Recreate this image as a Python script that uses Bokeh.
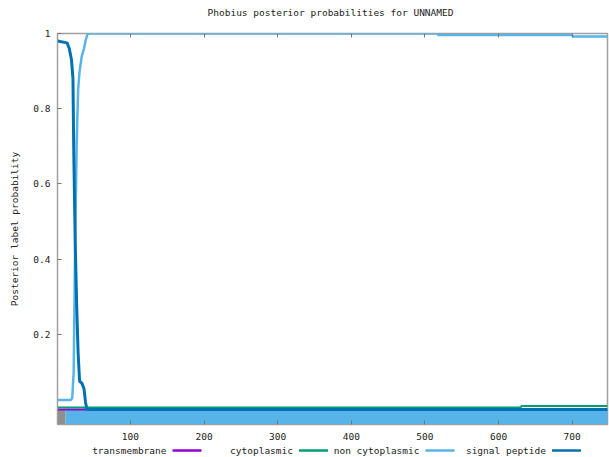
from bokeh.plotting import figure
from bokeh.models import FixedTicker, LinearAxis, Range1d
from bokeh.layouts import column
from bokeh.core.properties import value
from bokeh.embed import file_html
from bokeh.resources import INLINE

# ---------------- data ----------------
title_text = "Phobius posterior probabilities for UNNAMED"
y_axis_label = "Posterior label probability"
seq_length = 748

x_ticks = [100, 200, 300, 400, 500, 600, 700]
x_tick_labels = ["100", "200", "300", "400", "500", "600", "700"]
y_ticks = [0.2, 0.4, 0.6, 0.8, 1.0]
y_tick_labels = ["0.2", "0.4", "0.6", "0.8", "1"]

series_names = ["transmembrane", "cytoplasmic", "non cytoplasmic", "signal peptide"]
series_colors = ["#9400D3", "#009E73", "#56B4E9", "#0072B2"]

tm_pos = [1, 748]
tm_prob = [0.0, 0.0]

cyto_pos = [1, 630, 631, 748]
cyto_prob = [0.005, 0.005, 0.009, 0.009]

noncyto_pos = [1, 19, 21, 23, 25, 27, 29, 31, 34, 37, 39, 42, 517, 518, 700, 701, 748]
noncyto_prob = [0.025, 0.025, 0.03, 0.1, 0.45, 0.7, 0.85, 0.9, 0.94, 0.96, 0.98, 1.0,
                1.0, 0.996, 0.996, 0.992, 0.992]

sp_pos = [1, 14, 17, 20, 22, 23, 25, 27, 29, 31, 34, 37, 39, 41, 748]
sp_prob = [0.98, 0.975, 0.96, 0.93, 0.88, 0.7, 0.45, 0.28, 0.15, 0.075, 0.07, 0.055,
           0.02, 0.0, 0.0]

# predicted topology drawn under the axis
topo_start = [1, 12]
topo_end = [12, 748]
topo_colors = ["#8f8f8f", "#56B4E9"]
topo_top = 0.0
topo_bottom = -0.04

FONT = "DejaVu Sans Mono"
FS = "9.5px"
GRAY = "#a0a0a0"
TXT = "#222222"

W = 609
FRAME_L, FRAME_R = 57, 607
TITLE_H = 25
MAIN_H = 418
KEY_H = 14


def strip_fig(height):
    f = figure(width=W, height=height, x_range=Range1d(FRAME_L, FRAME_R), y_range=Range1d(0, 1),
               toolbar_location=None, output_backend="svg",
               min_border_left=FRAME_L, min_border_right=W - FRAME_R,
               min_border_top=0, min_border_bottom=0)
    f.outline_line_color = None
    f.axis.visible = False
    f.grid.visible = False
    return f


# ---------------- title strip ----------------
tf = strip_fig(TITLE_H)
tf.text(x=[330], y=[0.52], text=[title_text], text_align="center", text_baseline="middle",
        text_font=value(FONT), text_font_size=FS, text_color=TXT)

# ---------------- main plot ----------------
p = figure(width=W, height=MAIN_H,
           x_range=Range1d(1, seq_length), y_range=Range1d(-0.04, 1.0),
           toolbar_location=None, output_backend="svg",
           min_border_left=FRAME_L, min_border_right=W - FRAME_R,
           min_border_top=8, min_border_bottom=19)
p.background_fill_color = "white"
p.border_fill_color = "white"
p.outline_line_color = GRAY
p.outline_line_width = 1.5
p.grid.visible = False

# bottom axis
xa = p.xaxis[0]
xa.ticker = FixedTicker(ticks=x_ticks)
xa.major_label_overrides = dict(zip(x_ticks, x_tick_labels))
xa.major_tick_in = 4
xa.major_tick_out = 0
xa.minor_tick_line_color = None
xa.axis_line_color = GRAY
xa.major_tick_line_color = "#777777"
xa.major_label_standoff = 8
xa.major_label_text_font = FONT
xa.major_label_text_font_size = FS
xa.major_label_text_color = TXT

# left axis
ya = p.yaxis[0]
ya.ticker = FixedTicker(ticks=y_ticks)
ya.major_label_overrides = dict(zip(y_ticks, y_tick_labels))
ya.major_tick_in = 4
ya.major_tick_out = 0
ya.minor_tick_line_color = None
ya.axis_line_color = GRAY
ya.major_tick_line_color = "#777777"
ya.major_label_standoff = 7
ya.major_label_text_font = FONT
ya.major_label_text_font_size = FS
ya.major_label_text_color = TXT
ya.axis_label = y_axis_label
ya.axis_label_text_font = FONT
ya.axis_label_text_font_size = FS
ya.axis_label_text_font_style = "normal"
ya.axis_label_text_color = TXT
ya.axis_label_standoff = 10

# mirrored ticks on top
top_axis = LinearAxis(ticker=FixedTicker(ticks=x_ticks),
                      major_label_overrides={t: "" for t in x_ticks},
                      major_label_text_font_size="0px", major_label_standoff=0,
                      major_tick_in=4, major_tick_out=0,
                      minor_tick_line_color=None, axis_line_color=None,
                      major_tick_line_color="#777777")
p.add_layout(top_axis, "above")

# topology band
p.quad(left=topo_start, right=topo_end, bottom=topo_bottom, top=topo_top,
       fill_color=topo_colors, line_color=None)

# probability curves
p.line(tm_pos, tm_prob, line_color=series_colors[0], line_width=2)
p.line(cyto_pos, cyto_prob, line_color=series_colors[1], line_width=2)
p.line(noncyto_pos, noncyto_prob, line_color=series_colors[2], line_width=2.5)
p.line(sp_pos, sp_prob, line_color=series_colors[3], line_width=3)

# ---------------- key strip (x in page pixels) ----------------
key_line_start = 172
key_step = 126.5
key_line_len = 29
leg = strip_fig(KEY_H)
xs0 = [key_line_start + i * key_step for i in range(len(series_names))]
leg.segment(x0=xs0, x1=[x + key_line_len for x in xs0], y0=0.5, y1=0.5,
            line_color=series_colors, line_width=2.5)
leg.text(x=[x - 6 for x in xs0], y=0.5, text=series_names, text_align="right",
         text_baseline="middle", text_font=value(FONT), text_font_size=FS,
         text_color=TXT)

layout = column(tf, p, leg)
open("out.html", "w").write(file_html(layout, INLINE))
